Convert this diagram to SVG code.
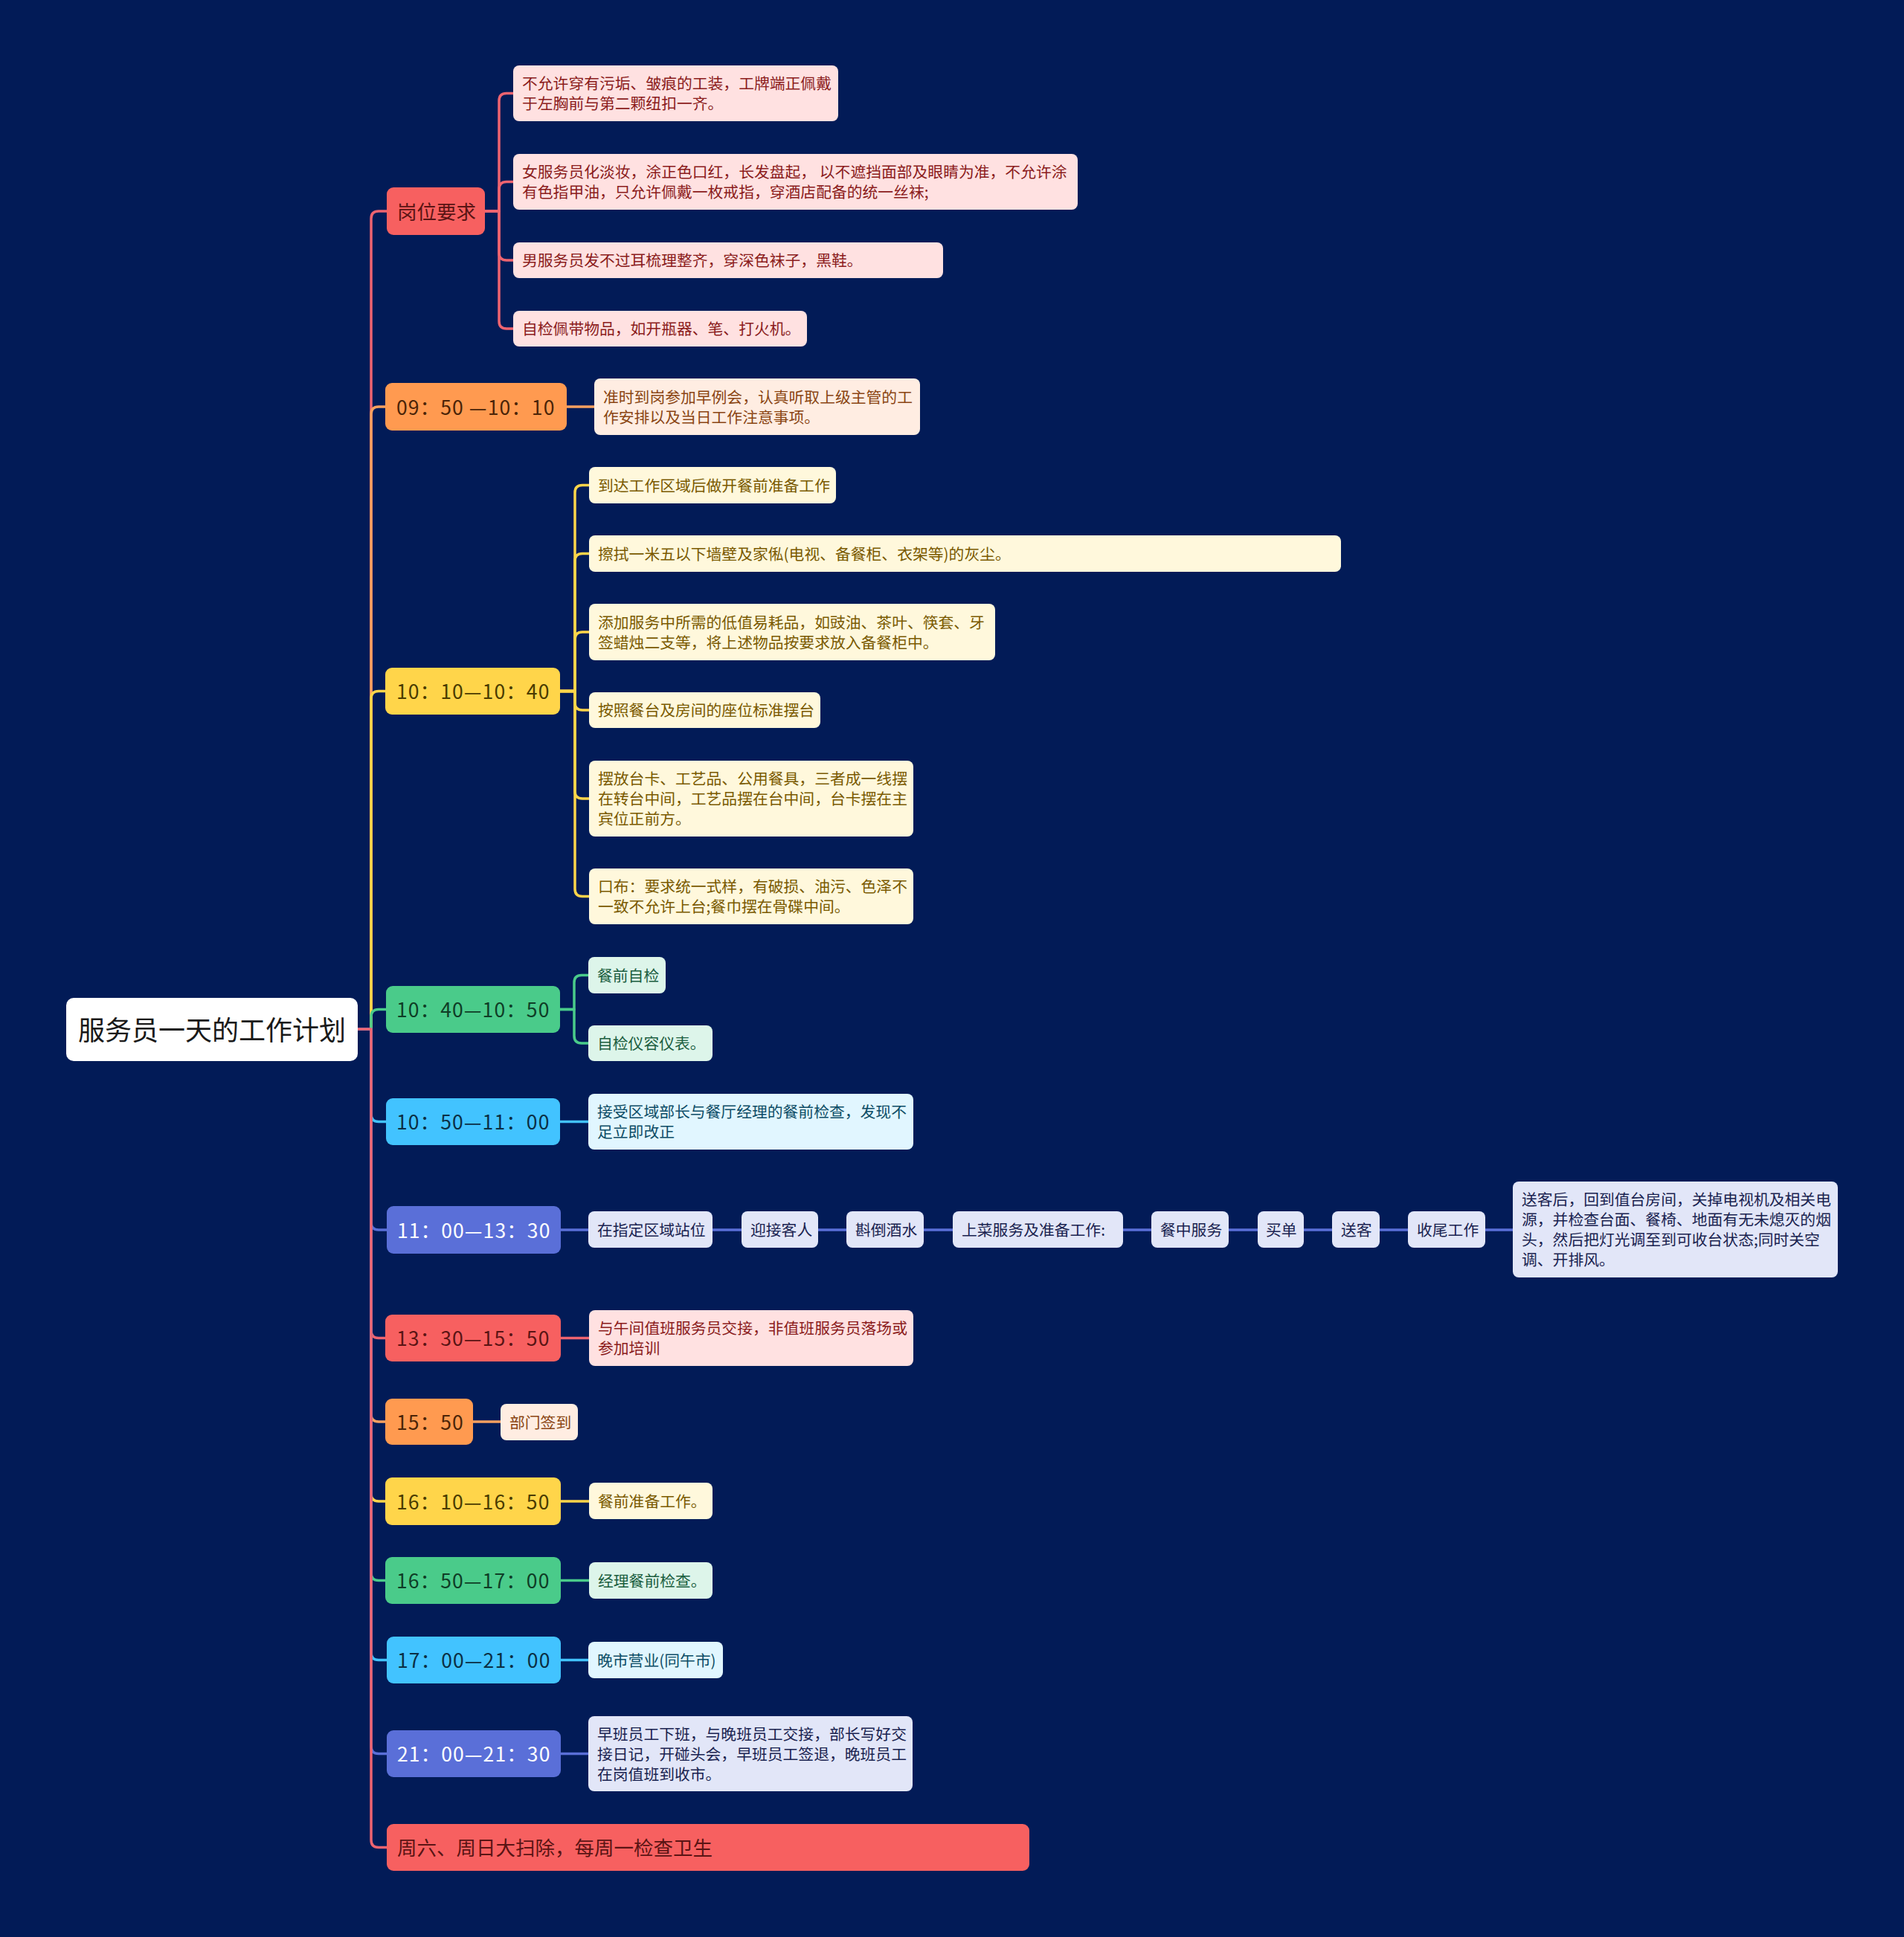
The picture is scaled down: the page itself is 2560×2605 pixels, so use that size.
<svg xmlns="http://www.w3.org/2000/svg" width="2560" height="2605" viewBox="0 0 2560 2605">
<style>
text{font-family:"Noto Sans CJK SC","Noto Sans",sans-serif;dominant-baseline:central;transform:translate(0px,-2px)}
.l{fill:none;stroke-width:3.5;stroke-linecap:round;stroke-linejoin:round}
.lr{stroke:#EE6470}.lo{stroke:#F8A060}.ly{stroke:#FFD54A}.lg{stroke:#4ACB8A}.lb{stroke:#42C3FF}.li{stroke:#5A6FD8}
.t1{font-size:26.5px}
.tm{letter-spacing:1.1px}
.t2{font-size:20.8px}
.fr{fill:#F76060}.fo{fill:#FF9A50}.fy{fill:#FFD54A}.fg{fill:#4ACB8A}.fb{fill:#42C3FF}.fi{fill:#5A6FD8}
.pr{fill:#FFE1E1}.po{fill:#FFEDE2}.py{fill:#FFF8DC}.pg{fill:#DDF5EA}.pb{fill:#E1F6FF}.pi{fill:#E2E6F8}
.cr{fill:#5A1414}.co{fill:#4A2408}.cy{fill:#4A3B00}.cg{fill:#0F3D26}.cb{fill:#0B2F44}.ci{fill:#FFFFFF}
.dr{fill:#8B1C1C}.do{fill:#8A4513}.dy{fill:#7A5A00}.dg{fill:#1B5E3F}.db{fill:#0D4D66}.di{fill:#1A2350}
</style>
<rect x="0" y="0" width="2560" height="2605" fill="#021B57"/>
<g id="connectors">
<path class="l lr" d="M481 1384 H499 V294 Q499 284 509 284 H520"/>
<path class="l lo" d="M481 1384 H499 V557 Q499 547 509 547 H518"/>
<path class="l ly" d="M481 1384 H499 V939.5 Q499 929.5 509 929.5 H518"/>
<path class="l lg" d="M481 1384 H499 V1367.5 Q499 1357.5 509 1357.5 H519"/>
<path class="l lb" d="M481 1384 H499 V1498.5 Q499 1508.5 509 1508.5 H519"/>
<path class="l li" d="M481 1384 H499 V1644 Q499 1654 509 1654 H520"/>
<path class="l lr" d="M481 1384 H499 V1789.5 Q499 1799.5 509 1799.5 H518"/>
<path class="l lo" d="M481 1384 H499 V1902 Q499 1912 509 1912 H518"/>
<path class="l ly" d="M481 1384 H499 V2009 Q499 2019 509 2019 H518"/>
<path class="l lg" d="M481 1384 H499 V2115.5 Q499 2125.5 509 2125.5 H518"/>
<path class="l lb" d="M481 1384 H499 V2222.5 Q499 2232.5 509 2232.5 H520"/>
<path class="l li" d="M481 1384 H499 V2348.5 Q499 2358.5 509 2358.5 H520"/>
<path class="l lr" d="M481 1384 H499 V2474.5 Q499 2484.5 509 2484.5 H520"/>
<path class="l lr" d="M652 284 H671 V135.5 Q671 125.5 681 125.5 H690"/>
<path class="l lr" d="M652 284 H671 V254.5 Q671 244.5 681 244.5 H690"/>
<path class="l lr" d="M652 284 H671 V340 Q671 350 681 350 H690"/>
<path class="l lr" d="M652 284 H671 V432 Q671 442 681 442 H690"/>
<path class="l lo" d="M762 547 H799"/>
<path class="l ly" d="M753 929.5 H773 V662.5 Q773 652.5 783 652.5 H792"/>
<path class="l ly" d="M753 929.5 H773 V754.5 Q773 744.5 783 744.5 H792"/>
<path class="l ly" d="M753 929.5 H773 V860 Q773 850 783 850 H792"/>
<path class="l ly" d="M753 929.5 H773 V945 Q773 955 783 955 H792"/>
<path class="l ly" d="M753 929.5 H773 V1064 Q773 1074 783 1074 H792"/>
<path class="l ly" d="M753 929.5 H773 V1195.5 Q773 1205.5 783 1205.5 H792"/>
<path class="l lg" d="M753 1357.5 H772 V1321.5 Q772 1311.5 782 1311.5 H791"/>
<path class="l lg" d="M753 1357.5 H772 V1393 Q772 1403 782 1403 H791"/>
<path class="l lb" d="M753 1508.5 H791"/>
<path class="l li" stroke-width="6" d="M754 1654 H2034"/>
<path class="l lr" d="M754 1799.5 H792"/>
<path class="l lo" d="M636 1912 H673"/>
<path class="l ly" d="M754 2019 H792"/>
<path class="l lg" d="M754 2125.5 H792"/>
<path class="l lb" d="M754 2232.5 H791"/>
<path class="l li" d="M754 2358.5 H791"/>
</g>
<g id="root"><rect x="89" y="1342" width="392" height="85" rx="10" fill="#FFFFFF"/><text x="285" y="1385" font-size="36" text-anchor="middle" fill="#1A1A1A">服务员一天的工作计划</text></g>

<g id="n1"><rect class="fr" x="520" y="252" width="132" height="64" rx="9"/><text class="t1 cr" x="534" y="285">岗位要求</text></g>
<g id="n1a"><rect class="pr" x="690" y="88" width="437" height="75" rx="8"/><text class="t2 dr" x="702" y="113">不允许穿有污垢、皱痕的工装，工牌端正佩戴</text><text class="t2 dr" x="702" y="140">于左胸前与第二颗纽扣一齐。</text></g>
<g id="n1b"><rect class="pr" x="690" y="207" width="759" height="75" rx="8"/><text class="t2 dr" x="702" y="232">女服务员化淡妆，涂正色口红，长发盘起， 以不遮挡面部及眼睛为准，不允许涂</text><text class="t2 dr" x="702" y="259">有色指甲油，只允许佩戴一枚戒指，穿酒店配备的统一丝袜;</text></g>
<g id="n1c"><rect class="pr" x="690" y="326" width="578" height="48" rx="8"/><text class="t2 dr" x="702" y="351">男服务员发不过耳梳理整齐，穿深色袜子，黑鞋。</text></g>
<g id="n1d"><rect class="pr" x="690" y="418" width="395" height="48" rx="8"/><text class="t2 dr" x="702" y="443">自检佩带物品，如开瓶器、笔、打火机。</text></g>

<g id="n2"><rect class="fo" x="518" y="515" width="244" height="64" rx="9"/><text class="t1 tm co" x="533" y="548">09：50 —10：10</text></g>
<g id="n2a"><rect class="po" x="799" y="509" width="438" height="76" rx="8"/><text class="t2 do" x="811" y="534.5">准时到岗参加早例会，认真听取上级主管的工</text><text class="t2 do" x="811" y="561.5">作安排以及当日工作注意事项。</text></g>

<g id="n3"><rect class="fy" x="518" y="898" width="235" height="63" rx="9"/><text class="t1 tm cy" x="533" y="930.5">10：10—10：40</text></g>
<g id="n3a"><rect class="py" x="792" y="628" width="332" height="49" rx="8"/><text class="t2 dy" x="804" y="653.5">到达工作区域后做开餐前准备工作</text></g>
<g id="n3b"><rect class="py" x="792" y="720" width="1011" height="49" rx="8"/><text class="t2 dy" x="804" y="745.5">擦拭一米五以下墙壁及家俬(电视、备餐柜、衣架等)的灰尘。</text></g>
<g id="n3c"><rect class="py" x="792" y="812" width="546" height="76" rx="8"/><text class="t2 dy" x="804" y="837.5">添加服务中所需的低值易耗品，如豉油、茶叶、筷套、牙</text><text class="t2 dy" x="804" y="864.5">签蜡烛二支等，将上述物品按要求放入备餐柜中。</text></g>
<g id="n3d"><rect class="py" x="792" y="931" width="311" height="48" rx="8"/><text class="t2 dy" x="804" y="956">按照餐台及房间的座位标准摆台</text></g>
<g id="n3e"><rect class="py" x="792" y="1023" width="436" height="102" rx="8"/><text class="t2 dy" x="804" y="1048">摆放台卡、工艺品、公用餐具，三者成一线摆</text><text class="t2 dy" x="804" y="1075">在转台中间，工艺品摆在台中间，台卡摆在主</text><text class="t2 dy" x="804" y="1102">宾位正前方。</text></g>
<g id="n3f"><rect class="py" x="792" y="1168" width="436" height="75" rx="8"/><text class="t2 dy" x="804" y="1193">口布：要求统一式样，有破损、油污、色泽不</text><text class="t2 dy" x="804" y="1220">一致不允许上台;餐巾摆在骨碟中间。</text></g>

<g id="n4"><rect class="fg" x="519" y="1326" width="234" height="63" rx="9"/><text class="t1 tm cg" x="533" y="1358.5">10：40—10：50</text></g>
<g id="n4a"><rect class="pg" x="791" y="1287" width="104" height="49" rx="8"/><text class="t2 dg" x="803" y="1312.5">餐前自检</text></g>
<g id="n4b"><rect class="pg" x="791" y="1379" width="167" height="48" rx="8"/><text class="t2 dg" x="803" y="1404">自检仪容仪表。</text></g>

<g id="n5"><rect class="fb" x="519" y="1477" width="234" height="63" rx="9"/><text class="t1 tm cb" x="533" y="1509.5">10：50—11：00</text></g>
<g id="n5a"><rect class="pb" x="791" y="1471" width="437" height="75" rx="8"/><text class="t2 db" x="803" y="1496">接受区域部长与餐厅经理的餐前检查，发现不</text><text class="t2 db" x="803" y="1523">足立即改正</text></g>

<g id="n6"><rect class="fi" x="520" y="1622" width="234" height="64" rx="9"/><text class="t1 tm ci" x="534" y="1655">11：00—13：30</text></g>
<g id="n6a"><rect class="pi" x="791" y="1629" width="167" height="49" rx="8"/><text class="t2 di" x="803" y="1655">在指定区域站位</text></g>
<g id="n6b"><rect class="pi" x="997" y="1629" width="103" height="49" rx="8"/><text class="t2 di" x="1009" y="1655">迎接客人</text></g>
<g id="n6c"><rect class="pi" x="1138" y="1629" width="104" height="49" rx="8"/><text class="t2 di" x="1150" y="1655">斟倒酒水</text></g>
<g id="n6d"><rect class="pi" x="1281" y="1629" width="229" height="49" rx="8"/><text class="t2 di" x="1293" y="1655">上菜服务及准备工作:</text></g>
<g id="n6e"><rect class="pi" x="1548" y="1629" width="104" height="49" rx="8"/><text class="t2 di" x="1560" y="1655">餐中服务</text></g>
<g id="n6f"><rect class="pi" x="1691" y="1629" width="62" height="49" rx="8"/><text class="t2 di" x="1702" y="1655">买单</text></g>
<g id="n6g"><rect class="pi" x="1791" y="1629" width="64" height="49" rx="8"/><text class="t2 di" x="1803" y="1655">送客</text></g>
<g id="n6h"><rect class="pi" x="1893" y="1629" width="104" height="49" rx="8"/><text class="t2 di" x="1905" y="1655">收尾工作</text></g>
<g id="n6i"><rect class="pi" x="2034" y="1589" width="437" height="129" rx="8"/><text class="t2 di" x="2046" y="1614">送客后，回到值台房间，关掉电视机及相关电</text><text class="t2 di" x="2046" y="1641">源，并检查台面、餐椅、地面有无未熄灭的烟</text><text class="t2 di" x="2046" y="1668">头，然后把灯光调至到可收台状态;同时关空</text><text class="t2 di" x="2046" y="1695">调、开排风。</text></g>

<g id="n7"><rect class="fr" x="518" y="1768" width="236" height="63" rx="9"/><text class="t1 tm cr" x="533" y="1800.5">13：30—15：50</text></g>
<g id="n7a"><rect class="pr" x="792" y="1762" width="436" height="75" rx="8"/><text class="t2 dr" x="804" y="1787">与午间值班服务员交接，非值班服务员落场或</text><text class="t2 dr" x="804" y="1814">参加培训</text></g>

<g id="n8"><rect class="fo" x="518" y="1881" width="118" height="62" rx="9"/><text class="t1 tm co" x="533" y="1913">15：50</text></g>
<g id="n8a"><rect class="po" x="673" y="1888" width="104" height="49" rx="8"/><text class="t2 do" x="685" y="1913.5">部门签到</text></g>

<g id="n9"><rect class="fy" x="518" y="1987" width="236" height="64" rx="9"/><text class="t1 tm cy" x="533" y="2020">16：10—16：50</text></g>
<g id="n9a"><rect class="py" x="792" y="1994" width="166" height="49" rx="8"/><text class="t2 dy" x="804" y="2019.5">餐前准备工作。</text></g>

<g id="n10"><rect class="fg" x="518" y="2094" width="236" height="63" rx="9"/><text class="t1 tm cg" x="533" y="2126.5">16：50—17：00</text></g>
<g id="n10a"><rect class="pg" x="792" y="2101" width="166" height="49" rx="8"/><text class="t2 dg" x="804" y="2126.5">经理餐前检查。</text></g>

<g id="n11"><rect class="fb" x="520" y="2201" width="234" height="63" rx="9"/><text class="t1 tm cb" x="534" y="2233.5">17：00—21：00</text></g>
<g id="n11a"><rect class="pb" x="791" y="2208" width="181" height="49" rx="8"/><text class="t2 db" x="803" y="2233.5">晚市营业(同午市)</text></g>

<g id="n12"><rect class="fi" x="520" y="2327" width="234" height="63" rx="9"/><text class="t1 tm ci" x="534" y="2359.5">21：00—21：30</text></g>
<g id="n12a"><rect class="pi" x="791" y="2308" width="436" height="101" rx="8"/><text class="t2 di" x="803" y="2332.5">早班员工下班，与晚班员工交接，部长写好交</text><text class="t2 di" x="803" y="2359.5">接日记，开碰头会，早班员工签退，晚班员工</text><text class="t2 di" x="803" y="2386.5">在岗值班到收市。</text></g>

<g id="n13"><rect class="fr" x="520" y="2453" width="864" height="63" rx="9"/><text class="t1 cr" x="534" y="2485.5">周六、周日大扫除，每周一检查卫生</text></g>
</svg>
